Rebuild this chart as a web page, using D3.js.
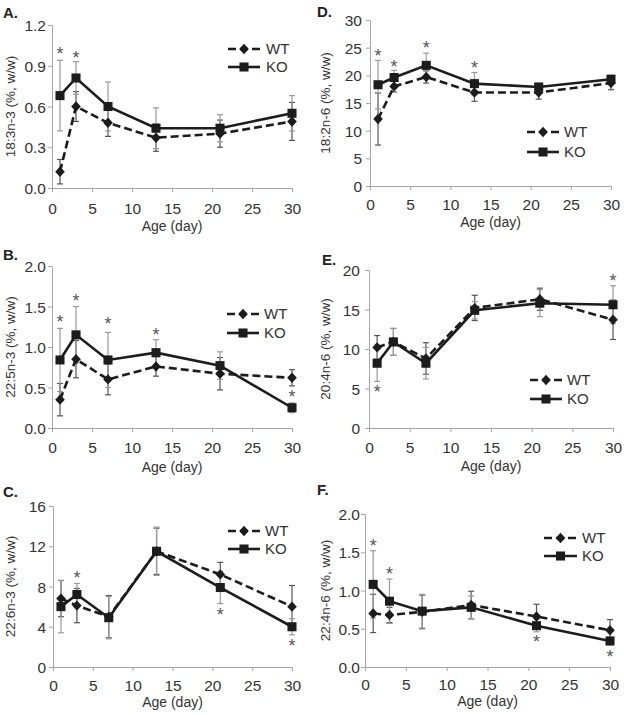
<!DOCTYPE html>
<html>
<head>
<meta charset="utf-8">
<script src="https://cdn.jsdelivr.net/npm/d3@7/dist/d3.min.js"></script>
<style>
  html, body { margin: 0; padding: 0; background: #fff; }
  svg { display: block; font-family: "Liberation Sans", Arial, sans-serif; }
</style>
</head>
<body>
<svg id="chart" width="624" height="715"></svg>
<script>
// ---------- Data ----------
const ages = [1, 3, 7, 13, 21, 30];
const xTicks = [0, 5, 10, 15, 20, 25, 30];
const seriesNames = ["WT", "KO"];

// A. 18:3n-3
const aLabel = "18:3n-3 (%, w/w)";
const aWT = [0.12, 0.60, 0.48, 0.37, 0.40, 0.49];
const aWTerr = [0.09, 0.11, 0.10, 0.10, 0.10, 0.14];
const aKO = [0.68, 0.81, 0.60, 0.44, 0.44, 0.55];
const aKOerr = [0.26, 0.12, 0.18, 0.15, 0.10, 0.13];
const aTicks = [0, 0.3, 0.6, 0.9, 1.2];
const aStars = [[1, 1.01], [3, 0.98]];

// B. 22:5n-3
const bLabel = "22:5n-3 (%, w/w)";
const bWT = [0.35, 0.85, 0.60, 0.76, 0.67, 0.62];
const bWTerr = [0.20, 0.23, 0.19, 0.12, 0.20, 0.10];
const bKO = [0.84, 1.15, 0.84, 0.93, 0.77, 0.25];
const bKOerr = [0.39, 0.35, 0.34, 0.16, 0.17, 0.06];
const bTicks = [0, 0.5, 1.0, 1.5, 2.0];
const bStars = [[1, 1.35], [3, 1.61], [7, 1.32], [13, 1.18], [30, 0.42]];

// C. 22:6n-3
const cLabel = "22:6n-3 (%, w/w)";
const cWT = [6.8, 6.1, 5.0, 11.5, 9.2, 6.0];
const cWTerr = [1.8, 1.7, 2.1, 2.3, 1.2, 2.1];
const cKO = [6.0, 7.2, 4.9, 11.5, 7.9, 4.0];
const cKOerr = [2.6, 1.1, 2.1, 2.4, 1.6, 0.8];
const cTicks = [0, 4, 8, 12, 16];
const cStars = [[3, 9.1], [21, 5.5], [30, 2.4]];

// D. 18:2n-6
const dLabel = "18:2n-6 (%, w/w)";
const dWT = [12.1, 18.0, 19.7, 16.9, 16.9, 18.6];
const dWTerr = [4.7, 1.0, 1.1, 1.6, 1.2, 1.2];
const dKO = [18.3, 19.6, 21.8, 18.5, 17.9, 19.3];
const dKOerr = [4.4, 1.3, 2.2, 2.0, 0.6, 0.7];
const dTicks = [0, 5, 10, 15, 20, 25, 30];
const dStars = [[1, 24.0], [3, 22.1], [7, 25.4], [13, 21.9]];

// E. 20:4n-6
const eLabel = "20:4n-6 (%, w/w)";
const eWT = [10.2, 10.9, 8.8, 15.2, 16.3, 13.7];
const eWTerr = [1.5, 1.7, 2.0, 1.6, 1.4, 2.5];
const eKO = [8.2, 10.9, 8.2, 14.9, 15.8, 15.6];
const eKOerr = [2.3, 1.7, 2.0, 1.1, 1.7, 2.4];
const eTicks = [0, 5, 10, 15, 20];
const eStars = [[1, 4.9], [30, 19.0]];

// F. 22:4n-6
const fLabel = "22:4n-6 (%, w/w)";
const fWT = [0.70, 0.68, 0.72, 0.81, 0.66, 0.48];
const fWTerr = [0.25, 0.10, 0.22, 0.18, 0.16, 0.14];
const fKO = [1.08, 0.86, 0.73, 0.78, 0.54, 0.34];
const fKOerr = [0.44, 0.29, 0.22, 0.15, 0.08, 0.05];
const fTicks = [0, 0.5, 1.0, 1.5, 2.0];
const fStars = [[1, 1.62], [3, 1.25], [21, 0.36], [30, 0.17]];

// ---------- Layout ----------
const panels = [
  { letter: "A.", label: aLabel, wt: aWT, wtErr: aWTerr, ko: aKO, koErr: aKOerr, ticks: aTicks, fmt: ".1f", stars: aStars,
    x0: 52, x1: 292, yTop: 25, yBot: 188, tickY: 208, ageY: 231, titleX: 3, titleY: 18, ylX: 10, tlX: 46,
    leg: { x0: 228, x1: 260, y0: 49, y1: 67, tx: 266 } },
  { letter: "B.", label: bLabel, wt: bWT, wtErr: bWTerr, ko: bKO, koErr: bKOerr, ticks: bTicks, fmt: ".1f", stars: bStars,
    x0: 52, x1: 292, yTop: 266, yBot: 428, tickY: 447, ageY: 472, titleX: 3, titleY: 260, ylX: 10, tlX: 46,
    leg: { x0: 227, x1: 259, y0: 314, y1: 333, tx: 264 } },
  { letter: "C.", label: cLabel, wt: cWT, wtErr: cWTerr, ko: cKO, koErr: cKOerr, ticks: cTicks, fmt: "d", stars: cStars,
    x0: 53, x1: 292, yTop: 506, yBot: 667, tickY: 685, ageY: 707, titleX: 3, titleY: 497, ylX: 10, tlX: 46,
    leg: { x0: 228, x1: 260, y0: 531, y1: 549, tx: 265 } },
  { letter: "D.", label: dLabel, wt: dWT, wtErr: dWTerr, ko: dKO, koErr: dKOerr, ticks: dTicks, fmt: "d", stars: dStars,
    x0: 370, x1: 611, yTop: 20, yBot: 186, tickY: 204, ageY: 227, titleX: 317, titleY: 17, ylX: 325, tlX: 362,
    leg: { x0: 527, x1: 559, y0: 132, y1: 152, tx: 564 } },
  { letter: "E.", label: eLabel, wt: eWT, wtErr: eWTerr, ko: eKO, koErr: eKOerr, ticks: eTicks, fmt: "d", stars: eStars,
    x0: 369, x1: 613, yTop: 270, yBot: 428, tickY: 447, ageY: 471, titleX: 322, titleY: 265, ylX: 325, tlX: 360,
    leg: { x0: 530, x1: 562, y0: 380, y1: 399, tx: 567 } },
  { letter: "F.", label: fLabel, wt: fWT, wtErr: fWTerr, ko: fKO, koErr: fKOerr, ticks: fTicks, fmt: ".1f", stars: fStars,
    x0: 365, x1: 610, yTop: 514, yBot: 667, tickY: 684, ageY: 706, titleX: 317, titleY: 495, ylX: 325, tlX: 360,
    leg: { x0: 544, x1: 577, y0: 538, y1: 556, tx: 582 } }
];

const svg = d3.select("#chart");
const axisColor = "#a6a6a6";
const textColor = "#333";
const lineColor = "#1c1c1c";

// wide diamond (close to the spreadsheet marker) and square
const diamondType = { draw(ctx, size) { const w = 4.8, h = 5.2; ctx.moveTo(0, -h); ctx.lineTo(w, 0); ctx.lineTo(0, h); ctx.lineTo(-w, 0); ctx.closePath(); } };
const diamond = d3.symbol().type(diamondType).size(1);
const square = d3.symbol().type(d3.symbolSquare).size(82);

panels.forEach(p => {
  const x = d3.scaleLinear().domain([0, 30]).range([p.x0, p.x1]);
  const y = d3.scaleLinear().domain([p.ticks[0], p.ticks[p.ticks.length - 1]]).range([p.yBot, p.yTop]);
  const g = svg.append("g");

  // axes
  const yAx = g.append("g").attr("transform", `translate(${p.x0},0)`)
    .call(d3.axisLeft(y).tickValues(p.ticks).tickFormat(d3.format(p.fmt)).tickSize(4).tickSizeOuter(0).tickPadding(3));
  const xAx = g.append("g").attr("transform", `translate(0,${p.yBot})`)
    .call(d3.axisBottom(x).tickValues(xTicks).tickSize(4).tickSizeOuter(0).tickPadding(3));
  [yAx, xAx].forEach(a => {
    a.selectAll("path.domain").attr("stroke", axisColor).attr("stroke-width", 1);
    a.selectAll(".tick line").attr("stroke", axisColor);
    a.selectAll(".tick text").attr("fill", textColor).style("font-size", "15.5px")
      .style("font-family", '"Liberation Sans", Arial, sans-serif');
  });
  yAx.selectAll(".tick text").attr("x", p.tlX - p.x0).attr("dy", "0.36em");
  xAx.selectAll(".tick text").attr("y", p.tickY - p.yBot).attr("dy", "0.36em");

  // axis titles
  g.append("text").attr("x", (p.x0 + p.x1) / 2).attr("y", p.ageY)
    .attr("text-anchor", "middle").attr("fill", textColor).style("font-size", "14px").text("Age (day)");
  g.append("text").attr("transform", `translate(${p.ylX},${(p.yTop + p.yBot) / 2}) rotate(-90)`)
    .attr("text-anchor", "middle").attr("dy", "0.36em").attr("fill", textColor)
    .style("font-size", "13.5px").text(p.label);
  g.append("text").attr("x", p.titleX).attr("y", p.titleY).attr("fill", "#222")
    .style("font-size", "15px").style("font-weight", "bold").text(p.letter);

  const series = [
    { name: "WT", v: p.wt, e: p.wtErr, dash: "8,4", sym: diamond, errColor: "#555" },
    { name: "KO", v: p.ko, e: p.koErr, dash: null, sym: square, errColor: "#9a9a9a" }
  ];

  // error bars
  series.forEach(s => {
    const eg = g.append("g").attr("stroke", s.errColor).attr("stroke-width", 1.2).attr("fill", "none");
    ages.forEach((a, i) => {
      const cx = x(a), lo = y(s.v[i] - s.e[i]), hi = y(s.v[i] + s.e[i]);
      eg.append("line").attr("x1", cx).attr("x2", cx).attr("y1", lo).attr("y2", hi);
      eg.append("line").attr("x1", cx - 3).attr("x2", cx + 3).attr("y1", lo).attr("y2", lo);
      eg.append("line").attr("x1", cx - 3).attr("x2", cx + 3).attr("y1", hi).attr("y2", hi);
    });
  });

  // lines + markers
  const line = d3.line().x((d, i) => x(ages[i])).y(d => y(d));
  series.forEach(s => {
    g.append("path").datum(s.v).attr("d", line).attr("fill", "none")
      .attr("stroke", lineColor).attr("stroke-width", 2.6)
      .attr("stroke-dasharray", s.dash);
  });
  series.forEach(s => {
    g.append("g").selectAll("path").data(s.v).join("path")
      .attr("transform", (d, i) => `translate(${x(ages[i])},${y(d)})`)
      .attr("d", s.sym).attr("fill", lineColor);
  });

  // significance stars
  g.append("g").selectAll("text").data(p.stars).join("text")
    .attr("x", d => x(d[0])).attr("y", d => y(d[1]) + 9)
    .attr("text-anchor", "middle").attr("fill", "#555").style("font-size", "18px").text("*");

  // legend
  const L = p.leg;
  [[series[0], L.y0], [series[1], L.y1]].forEach(([s, ly]) => {
    g.append("line").attr("x1", L.x0).attr("x2", L.x1).attr("y1", ly).attr("y2", ly)
      .attr("stroke", lineColor).attr("stroke-width", 2.6).attr("stroke-dasharray", s.dash);
    g.append("path").attr("transform", `translate(${(L.x0 + L.x1) / 2},${ly})`).attr("d", s.sym).attr("fill", lineColor);
    g.append("text").attr("x", L.tx).attr("y", ly).attr("dy", "0.36em").attr("fill", textColor)
      .style("font-size", "15px").text(s.name);
  });
});
</script>
</body>
</html>
